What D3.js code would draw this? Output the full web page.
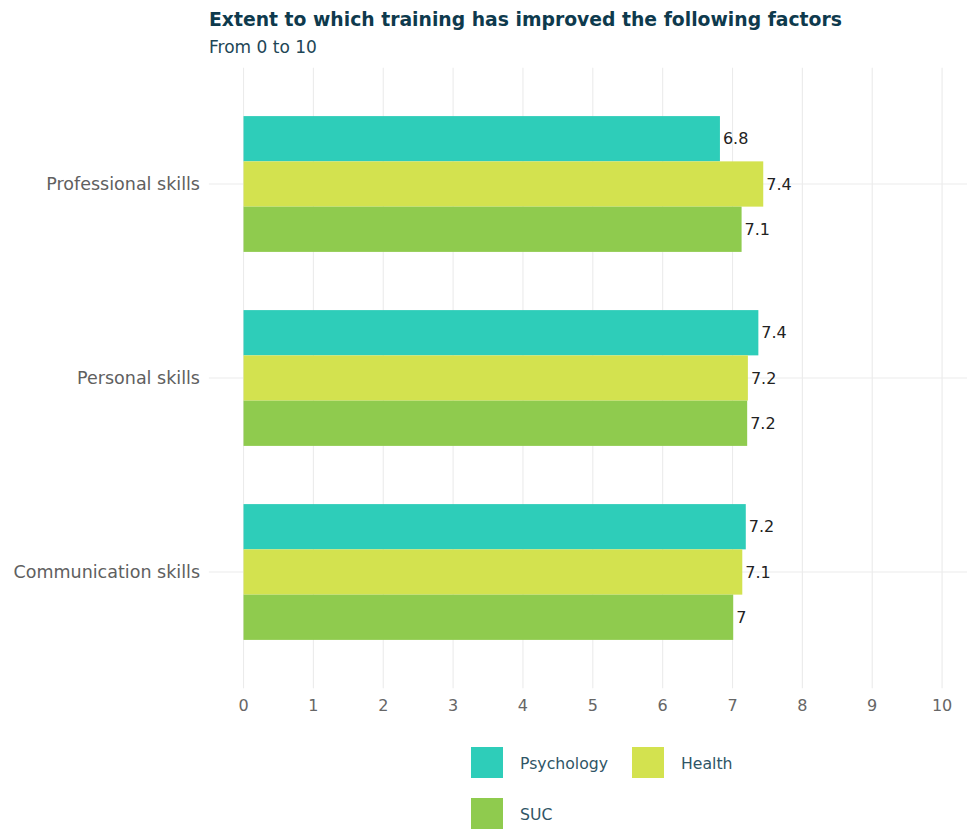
<!DOCTYPE html>
<html>
<head>
<meta charset="utf-8">
<script src="https://cdn.jsdelivr.net/npm/d3@7"></script>
<style>
  html, body { margin: 0; padding: 0; background: #ffffff; }
  svg { display: block; }
  text { font-family: "DejaVu Sans", "Open Sans", sans-serif; }
</style>
</head>
<body>
<div id="chart"></div>
<script>
// Survey results: extent to which training improved each factor (scale 0-10)
const categories = ["Professional skills", "Personal skills", "Communication skills"];
const seriesNames = ["Psychology", "Health", "SUC"];
const psychology = [6.82, 7.37, 7.19];
const health = [7.44, 7.22, 7.14];
const suc = [7.13, 7.21, 7.01];
const xTicks = [0, 1, 2, 3, 4, 5, 6, 7, 8, 9, 10];
const colors = ["#2ecdb9", "#d3e24f", "#8fcb4e"];

const seriesValues = [psychology, health, suc];
const rows = [];
categories.forEach((c, i) => {
  seriesNames.forEach((s, j) => rows.push({ category: c, series: s, value: seriesValues[j][i] }));
});

const W = 967, H = 829;
const svg = d3.select("#chart").append("svg").attr("width", W).attr("height", H);

// Panel extent (x domain padded by 5% on each side, like a default continuous expansion)
const x = d3.scaleLinear().domain([-0.5, 10.5]).range([208.6, 977.0]);
const y = d3.scaleBand().domain(categories).range([67.6, 688.4]).paddingInner(0).paddingOuter(0.1);
// group width 0.7 of a step
const groupH = y.step() * 0.7;
const ySub = d3.scaleBand().domain(seriesNames).range([0, groupH]);
const color = d3.scaleOrdinal().domain(seriesNames).range(colors);

const clipId = "panelClip";
svg.append("clipPath").attr("id", clipId).append("rect")
  .attr("x", x.range()[0]).attr("y", y.range()[0])
  .attr("width", W - x.range()[0]).attr("height", y.range()[1] - y.range()[0]);

const panel = svg.append("g").attr("clip-path", `url(#${clipId})`);

// vertical gridlines
panel.selectAll("line.vgrid").data(xTicks).join("line")
  .attr("class", "vgrid")
  .attr("x1", d => x(d)).attr("x2", d => x(d))
  .attr("y1", y.range()[0]).attr("y2", y.range()[1])
  .attr("stroke", "#ebebeb").attr("stroke-width", 1.1);

// horizontal gridlines at category centres
panel.selectAll("line.hgrid").data(categories).join("line")
  .attr("class", "hgrid")
  .attr("x1", x.range()[0]).attr("x2", W)
  .attr("y1", d => y(d) + y.bandwidth() / 2).attr("y2", d => y(d) + y.bandwidth() / 2)
  .attr("stroke", "#ebebeb").attr("stroke-width", 1.1);

const barTop = d => y(d.category) + y.bandwidth() / 2 - groupH / 2 + ySub(d.series);

// bars
panel.selectAll("rect.bar").data(rows).join("rect")
  .attr("class", "bar")
  .attr("x", x(0))
  .attr("y", barTop)
  .attr("width", d => x(d.value) - x(0))
  .attr("height", ySub.bandwidth())
  .attr("fill", d => color(d.series));

// value labels
const fmt = v => String(+v.toFixed(1));
svg.selectAll("text.val").data(rows).join("text")
  .attr("class", "val")
  .attr("x", d => x(d.value) + 3)
  .attr("y", d => barTop(d) + ySub.bandwidth() / 2)
  .attr("dy", "0.36em")
  .attr("font-size", 16)
  .attr("fill", "#222222")
  .text(d => fmt(d.value));

// x axis tick labels
svg.selectAll("text.xtick").data(xTicks).join("text")
  .attr("class", "xtick")
  .attr("x", d => x(d))
  .attr("y", 705)
  .attr("dy", "0.36em")
  .attr("text-anchor", "middle")
  .attr("font-size", 16)
  .attr("fill", "#666666")
  .text(d => d);

// y axis category labels
svg.selectAll("text.ycat").data(categories).join("text")
  .attr("class", "ycat")
  .attr("x", 200)
  .attr("y", d => y(d) + y.bandwidth() / 2)
  .attr("dy", "0.36em")
  .attr("text-anchor", "end")
  .attr("font-size", 17.5)
  .attr("fill", "#606060")
  .text(d => d);

// title & subtitle
svg.append("text")
  .attr("x", 209).attr("y", 26)
  .attr("font-size", 18.8).attr("font-weight", "bold")
  .attr("fill", "#0e3a4d")
  .text("Extent to which training has improved the following factors");
svg.append("text")
  .attr("x", 209).attr("y", 53)
  .attr("font-size", 17)
  .attr("fill", "#1d4656")
  .text("From 0 to 10");

// legend
const legendPos = [
  { name: "Psychology", kx: 471, ky: 747 },
  { name: "Health", kx: 632, ky: 747 },
  { name: "SUC", kx: 471, ky: 798 }
];
const lg = svg.append("g");
lg.selectAll("rect").data(legendPos).join("rect")
  .attr("x", d => d.kx).attr("y", d => d.ky)
  .attr("width", 32).attr("height", 31)
  .attr("fill", d => color(d.name));
lg.selectAll("text").data(legendPos).join("text")
  .attr("x", d => d.kx + 49).attr("y", d => d.ky + 16)
  .attr("dy", "0.36em")
  .attr("font-size", 15.7)
  .attr("fill", "#2f5566")
  .text(d => d.name);
</script>
</body>
</html>
